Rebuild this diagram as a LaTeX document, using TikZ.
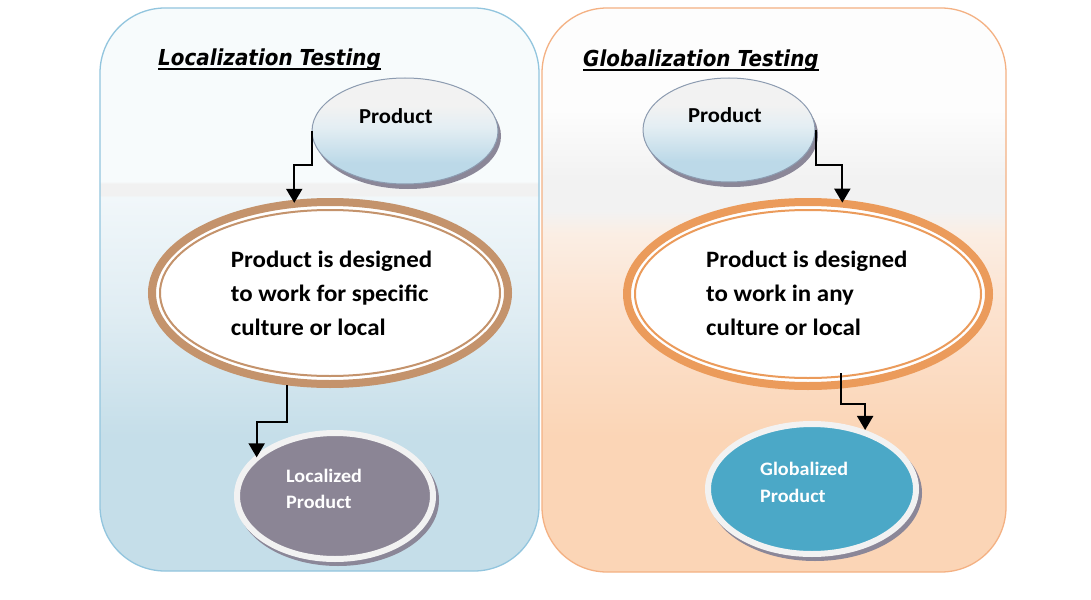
\documentclass[tikz,border=0pt]{standalone}
\usepackage{fontspec}
\setmainfont{Carlito}
\newfontfamily\bodyfont{Carlito}[FakeStretch=1.06]
\newfontfamily\titlefont{DejaVu Sans}[FakeStretch=0.905]
\usetikzlibrary{arrows.meta,shapes.geometric,shadows}

\definecolor{lbord}{HTML}{92C5DE}
\definecolor{rbord}{HTML}{F4B183}
\definecolor{ltop}{HTML}{F7FBFC}
\definecolor{lband}{HTML}{F1F1F1}
\definecolor{lmidA}{HTML}{F1F7FA}
\definecolor{lmid}{HTML}{E0EDF3}
\definecolor{lbot}{HTML}{C5DEE9}
\definecolor{rtop}{HTML}{FDFDFD}
\definecolor{rband}{HTML}{F2F2F2}
\definecolor{rmidA}{HTML}{FBEEE4}
\definecolor{rmid}{HTML}{FCE2CE}
\definecolor{rbot}{HTML}{FBD5B6}
\definecolor{locring}{HTML}{C4936C}
\definecolor{globring}{HTML}{EB9B5B}
\definecolor{prodtop}{HTML}{F2F2F2}
\definecolor{prodmid}{HTML}{E4EEF3}
\definecolor{prodbot}{HTML}{BCD9E8}
\definecolor{prodedge}{HTML}{8C9BB0}
\definecolor{shadowgray}{HTML}{8B8798}
\definecolor{locfill}{HTML}{8B8595}
\definecolor{globfill}{HTML}{4BA8C7}
\definecolor{ringwhite}{HTML}{F2F2F2}

\pgfdeclareverticalshading{lpanelshade}{100bp}{color(0bp)=(lbot); color(25bp)=(lbot); color(37bp)=(lbot); color(48bp)=(lmid); color(58.2bp)=(lmidA); color(58.4bp)=(lband); color(59.4bp)=(lband); color(59.6bp)=(ltop); color(100bp)=(ltop)}
\pgfdeclareverticalshading{rpanelshade}{100bp}{color(0bp)=(rbot); color(25bp)=(rbot); color(37bp)=(rbot); color(48bp)=(rmid); color(55bp)=(rmidA); color(57bp)=(rband); color(60bp)=(rband); color(66bp)=(rtop); color(100bp)=(rtop)}
\pgfdeclareverticalshading{prodshade}{100bp}{color(0bp)=(prodbot); color(35bp)=(prodbot); color(52bp)=(prodmid); color(62bp)=(prodtop); color(100bp)=(prodtop)}

\newcommand\myuline[1]{\setbox0\hbox{#1}\rlap{\rule[-4pt]{\wd0}{2pt}}\box0}

\begin{document}
\begin{tikzpicture}[x=1pt,y=-1pt,
  panel/.style={line width=1.3pt, rounded corners=65pt},
  prod/.style={ellipse, draw=prodedge, line width=1pt, shading=prodshade, inner sep=0pt,
    drop shadow={shadow xshift=3pt, shadow yshift=-5pt, fill=shadowgray, opacity=1}},
  ring/.style={ellipse, draw=#1, line width=8pt, fill=white, inner sep=0pt},
  innerring/.style={draw=#1, line width=2pt},
  result/.style={ellipse, draw=ringwhite, line width=6pt, inner sep=0pt,
    drop shadow={shadow xshift=3pt, shadow yshift=-4pt, fill=shadowgray, draw=shadowgray, line width=6pt, opacity=1}},
  titletxt/.style={anchor=base west, inner sep=0pt, font=\titlefont\bfseries\itshape\fontsize{22}{26}\selectfont},
  prodtxt/.style={anchor=base west, inner sep=0pt, font=\bodyfont\bfseries\fontsize{21.3}{25}\selectfont},
  bodytxt/.style={anchor=base west, inner sep=0pt, font=\bodyfont\bfseries\fontsize{23.5}{28}\selectfont},
  restxt/.style={anchor=base west, inner sep=0pt, text=white, font=\bodyfont\bfseries\fontsize{19}{24}\selectfont},
  arr/.style={draw=black, line width=2pt, -{Triangle[width=16pt,length=14pt]}}
]
\useasboundingbox (0,0) rectangle (1091,599);
\fill[white] (0,0) rectangle (1091,599);

% panels
\path[panel, draw=lbord, shading=lpanelshade] (100,8) rectangle (539,571);
\path[panel, draw=rbord, shading=rpanelshade] (542,8) rectangle (1006,572);

% titles
\node[titletxt] (ltitle) at (158,66) {\myuline{Localization Testing}};
\node[titletxt] (gtitle) at (583,67) {\myuline{Globalization Testing}};

% product ellipses
\node[prod, minimum width=186pt, minimum height=106pt] (pl) at (405,131) {};
\node[prod, minimum width=172pt, minimum height=104pt] (pr) at (729,130) {};
\node[prodtxt] (plt) at (359,124) {Product};
\node[prodtxt] (prt) at (688,122) {Product};

% big ellipses
\node[ring=locring, minimum width=356pt, minimum height=182pt] (bl) at (330,293) {};
\draw[innerring=locring] (bl.center) ellipse [x radius=170pt, y radius=83pt];
\node[ring=globring, minimum width=362pt, minimum height=184pt] (br) at (808,294) {};
\draw[innerring=globring] (br.center) ellipse [x radius=173pt, y radius=84pt];

\node[bodytxt] (bl1) at (230.7,267) {Product is designed};
\node[bodytxt] (bl2) at (230.7,301) {to work for specific};
\node[bodytxt] (bl3) at (230.7,335.5) {culture or local};
\node[bodytxt] (br1) at (706,267) {Product is designed};
\node[bodytxt] (br2) at (706,301) {to work in any};
\node[bodytxt] (br3) at (706,335.5) {culture or local};

% result ellipses
\node[result, fill=locfill, minimum width=196pt, minimum height=126pt] (lp) at (335,496) {};
\node[result, fill=globfill, minimum width=208pt, minimum height=130pt] (gp) at (812,489) {};
\node[restxt] (lpt1) at (286,482) {Localized};
\node[restxt] (lpt2) at (286,508) {Product};
\node[restxt] (gpt1) at (760,475) {Globalized};
\node[restxt] (gpt2) at (760,502) {Product};

% connectors
\coordinate (gs) at (841,373);
\draw[arr, shorten >=-3pt] (pl.west) -- ++(0,34) -| (bl.111.4);
\draw[arr, shorten >=-3pt] (pr.east) -- ++(0,35) -| (br.70.5);
\draw[arr, shorten >=-3pt] (bl.245.2) -- ++(0,37) -| (lp.152.4);
\draw[arr] (gs) -- ++(0,31) -| (gp.48);
\end{tikzpicture}
\end{document}
